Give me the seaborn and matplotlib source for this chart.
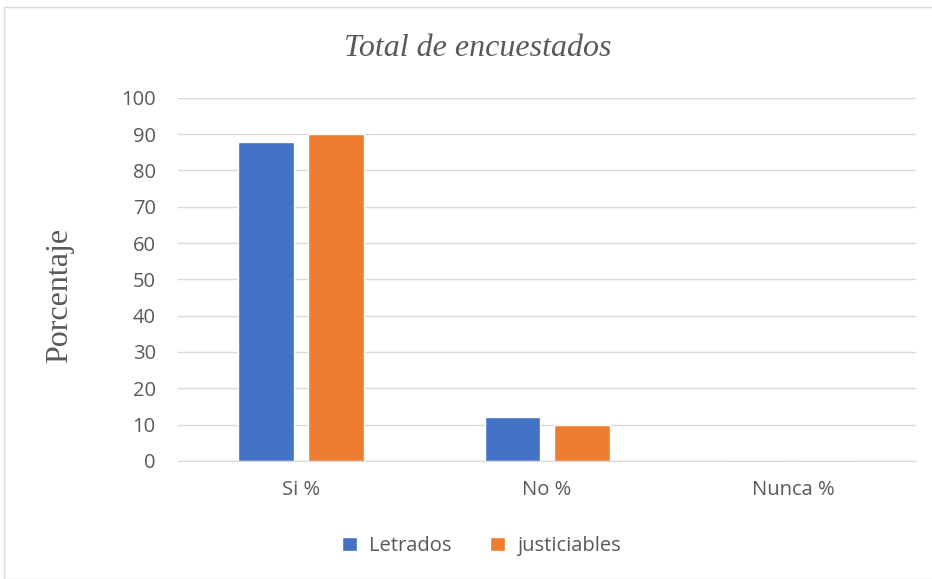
import numpy as np
import pandas as pd
import matplotlib
matplotlib.use('Agg')
import matplotlib.pyplot as plt
import seaborn as sns
from matplotlib.patches import Rectangle

categories = ['Si %', 'No %', 'Nunca %']
series = ['Letrados', 'justiciables']
letrados = [87.8, 12.2, 0]
justiciables = [90.0, 10.0, 0]

df = pd.DataFrame({
    'categoria': categories * 2,
    'grupo': [series[0]] * 3 + [series[1]] * 3,
    'valor': letrados + justiciables,
})

sns.set_style('white')
plt.rcParams['font.family'] = ['Open Sans', 'DejaVu Sans']

fig = plt.figure(figsize=(9.32, 5.79), dpi=100)
ax = fig.add_axes([0.191, 0.204, 0.792, 0.627])

sns.barplot(data=df, x='categoria', y='valor', hue='grupo', order=categories,
            hue_order=series, palette=['#4472c4', '#ed7d31'], saturation=1,
            width=0.568, gap=0.21, ax=ax, legend=True)

ax.set_ylim(0, 100)
ax.set_xlim(-0.5, 2.5)
ax.set_yticks(np.arange(0, 101, 10))
ax.yaxis.grid(True, color='#d9d9d9', lw=1)
ax.set_axisbelow(True)
for s in ['top', 'right', 'left']:
    ax.spines[s].set_visible(False)
ax.spines['bottom'].set_color('#d9d9d9')
ax.tick_params(axis='both', length=0, labelsize=14.5, colors='#595959')
ax.tick_params(axis='y', pad=16)
ax.tick_params(axis='x', pad=14)
ax.set_xlabel('')
ax.set_ylabel('')

# title and y label placed on the figure, as in the original chart
fig.text(0.513, 1 - 48 / 579, 'Total de encuestados', family='Liberation Serif',
         style='italic', fontsize=23, color='#595959', ha='center', va='center')
fig.text(60 / 932, 1 - 295 / 579, 'Porcentaje', family='Liberation Serif',
         fontsize=23, color='#595959', rotation=90, ha='center', va='center')

ax.legend(loc='center', bbox_to_anchor=(481 / 932, 1 - 546 / 579),
          bbox_transform=fig.transFigure, ncol=2, frameon=False,
          fontsize=14.5, labelcolor='#595959', handlelength=0.75, handleheight=0.75,
          columnspacing=1.9, handletextpad=0.6)

fig.patches.append(Rectangle((4 / 932, 0), 1, 1 - 7 / 579, transform=fig.transFigure,
                             fill=False, edgecolor='#d9d9d9', lw=1))

fig.savefig('out.png', dpi=100)
